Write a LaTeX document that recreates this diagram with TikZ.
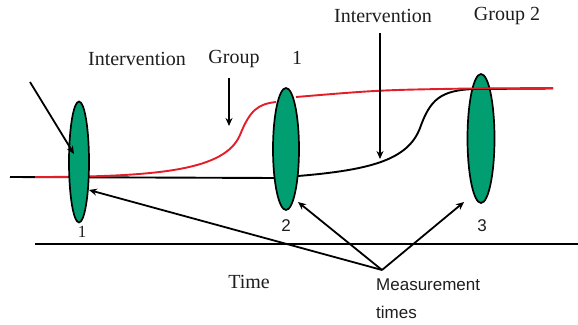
\documentclass[tikz,border=0pt]{standalone}
\usepackage{fontspec}
\setmainfont{Liberation Serif}
\newfontfamily\arialfont{Liberation Sans}
\usetikzlibrary{shapes.geometric,arrows.meta}
\definecolor{ovalgreen}{RGB}{0,158,112}
\definecolor{curvered}{RGB}{228,30,40}
\definecolor{txt}{RGB}{30,30,30}
\begin{document}
\begin{tikzpicture}[x=1pt,y=-1pt,
  oval/.style={ellipse,draw=black,line width=1.7pt,fill=ovalgreen,inner sep=0pt},
  serif/.style={font=\fontsize{20}{22}\selectfont,text=txt,inner sep=0pt},
  sans/.style={font=\arialfont\fontsize{17}{19}\selectfont,text=txt,inner sep=0pt},
  pointer/.style={draw=black,line width=1.8pt,-{Stealth[length=8pt,width=7pt]}},
  curve/.style={line width=1.9pt}]
\useasboundingbox (0,0) rectangle (578,324);
\fill[white] (0,0) rectangle (578,324);
% time axis
\coordinate (ax0) at (35,244);
\coordinate (ax1) at (578,244);
\draw[line width=2.2pt] (ax0) -- (ax1);
% oval 3 lies under the curves
\node[oval,minimum width=27pt,minimum height=129pt] (e3) at (481,138.5) {};
% black curve (group 2)
\draw[curve,black] (10,177) -- (276,178);
\draw[curve,black] (298,176) .. controls (370,170) and (408,160) .. (420,128)
  .. controls (430,100) and (440,90) .. (475,89) -- (553,88.5);
% red curve (intervention group 1)
\draw[curve,curvered] (35,177) .. controls (160,177) and (225,170) .. (240,135)
  .. controls (250,110) and (258,104) .. (276,102);
\draw[curve,curvered] (296,97) .. controls (380,90) .. (470,88.5) -- (553,88);
% ovals 1 and 2
\node[oval,minimum width=20pt,minimum height=121pt] (e1) at (79,162) {};
\node[oval,minimum width=26pt,minimum height=122pt] (e2) at (286,149) {};
% labels of ovals
\node[font=\fontsize{17}{19}\selectfont,text=txt,inner sep=0pt] (n1) at (82,232) {1};
\node[sans] (n2) at (286,226) {2};
\node[sans] (n3) at (482,226) {3};
% texts
\node[serif] (iv1) at (137,59) {Intervention};
\node[serif] (g1) at (234,59) {Group};
\node[serif] (one) at (297,58) {1};
\node[serif] (iv2) at (383,16) {Intervention};
\node[serif] (g2) at (507,16) {Group 2};
\node[serif] (time) at (249,282) {Time};
\node[sans,anchor=west] (meas) at (376,285) {Measurement};
\node[sans,anchor=west] (times) at (376,312) {times};
% arrows
\coordinate (a1s) at (229,78);
\coordinate (a1e) at (229,126);
\draw[pointer] (a1s) -- (a1e);
\coordinate (a2s) at (380,33);
\coordinate (a2e) at (380,159);
\draw[pointer] (a2s) -- (a2e);
\coordinate (tl) at (30,82);
\coordinate (tlE) at (74,154);
\draw[pointer] (tl) -- (tlE);
\coordinate (m) at (382,270);
\coordinate (t1) at (89,190);
\coordinate (t2) at (298,202);
\coordinate (t3) at (464,202);
\draw[pointer] (m) -- (t1);
\draw[pointer] (m) -- (t2);
\draw[pointer] (m) -- (t3);
\end{tikzpicture}
\end{document}
